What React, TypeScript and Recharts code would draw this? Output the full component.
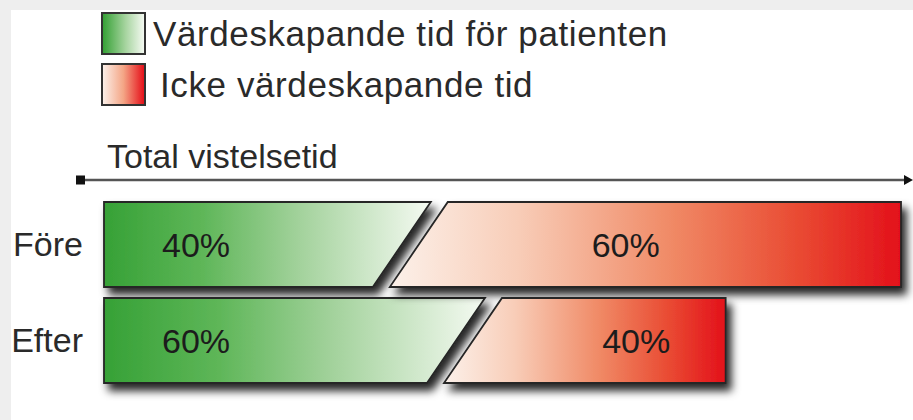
import React from 'react';
import { BarChart, Bar, XAxis, YAxis, Legend, LabelList } from 'recharts';

// rader och data
const categories = ['Före', 'Efter'];
const totalTime = [100, 78]; // total vistelsetid, relativt Före
const valueShare = [40, 60]; // % värdeskapande tid
const nonValueShare = [60, 40]; // % icke värdeskapande tid

const seriesNames = ['Värdeskapande tid för patienten', 'Icke värdeskapande tid'];
const axisTitle = 'Total vistelsetid';

const data = categories.map((name, i) => ({
  name,
  value: (totalTime[i] * valueShare[i]) / 100,
  nonValue: (totalTime[i] * nonValueShare[i]) / 100,
  valuePct: `${valueShare[i]}%`,
  nonValuePct: `${nonValueShare[i]}%`,
}));

const FONT = '"Liberation Sans", Arial, Helvetica, sans-serif';
const swatchCss = [
  'linear-gradient(to right, #36a136, #a6d49f 55%, #f4f9f1)',
  'linear-gradient(to right, #fbefe8, #f4a585 50%, #e5101a)',
];

// snedställda kanter mellan segmenten
const SLANT = 58;
const GREEN_TOP = 8;
const RED_TOP = 25;

const GreenShape = (props: any) => {
  const { x, y, width, height } = props;
  const b = x + width;
  const pts = [
    [x, y],
    [b + GREEN_TOP, y],
    [b + GREEN_TOP - SLANT, y + height],
    [x, y + height],
  ];
  return (
    <polygon
      points={pts.map((p) => p.join(',')).join(' ')}
      fill="url(#gradGreen)"
      stroke="#262626"
      strokeWidth={1.8}
      filter="url(#barShadow)"
    />
  );
};

const RedShape = (props: any) => {
  const { x, y, width, height } = props;
  const pts = [
    [x + RED_TOP, y],
    [x + width, y],
    [x + width, y + height],
    [x + RED_TOP - SLANT, y + height],
  ];
  return (
    <polygon
      points={pts.map((p) => p.join(',')).join(' ')}
      fill="url(#gradRed)"
      stroke="#262626"
      strokeWidth={1.8}
      filter="url(#barShadow)"
    />
  );
};

const GreenLabel = (props: any) => {
  const { x, y, height, value } = props;
  return (
    <text x={x + 92} y={y + height / 2} textAnchor="middle" dominantBaseline="central"
      fontFamily={FONT} fontSize={34} fill="#1c1c1c">
      {value}
    </text>
  );
};

const RedLabel = (props: any) => {
  const { x, y, width, height, value } = props;
  return (
    <text x={x + 112 + width * 0.19} y={y + height / 2} textAnchor="middle" dominantBaseline="central"
      fontFamily={FONT} fontSize={34} fill="#1c1c1c">
      {value}
    </text>
  );
};

const CategoryTick = (props: any) => {
  const { x, y, payload } = props;
  return (
    <text x={x} y={y} textAnchor="end" dominantBaseline="central"
      fontFamily={FONT} fontSize={34} fill="#2a2a2a">
      {payload.value}
    </text>
  );
};

const LegendContent = (props: any) => {
  const items = [...(props.payload || [])].sort(
    (a: any, b: any) => seriesNames.indexOf(a.value) - seriesNames.indexOf(b.value)
  );
  return (
    <div style={{ fontFamily: FONT }}>
      {items.map((item: any) => {
        const i = seriesNames.indexOf(item.value);
        return (
          <div key={item.value} style={{ display: 'flex', alignItems: 'center', height: 51 }}>
            <div
              style={{
                width: 45,
                height: 43,
                background: swatchCss[i],
                border: '2px solid #333',
                boxSizing: 'border-box',
              }}
            />
            <span
              style={{
                marginLeft: i === 0 ? 7 : 14,
                fontSize: 35,
                letterSpacing: 0.6,
                color: '#2a2a2a',
                lineHeight: '40px',
              }}
            >
              {item.value}
            </span>
          </div>
        );
      })}
    </div>
  );
};

export default function App() {
  return (
    <div style={{ position: 'absolute', left: 0, top: 0, width: 913, height: 420, background: '#eeeeee' }}>
      <div style={{ position: 'absolute', left: 11, top: 10, right: 0, bottom: 0, background: '#ffffff' }} />

      {/* axeltitel med pil */}
      <div style={{ position: 'absolute', left: 107, top: 136, fontFamily: FONT, fontSize: 34, color: '#2a2a2a', lineHeight: '40px' }}>
        {axisTitle}
      </div>
      <svg style={{ position: 'absolute', left: 0, top: 0 }} width={913} height={200}>
        <line x1={80} y1={180} x2={906} y2={180} stroke="#555" strokeWidth={2.5} />
        <rect x={76} y={175.5} width={9} height={9} fill="#111" />
        <polygon points="904,175 913,180 904,185" fill="#111" />
      </svg>

      <div style={{ position: 'absolute', left: 0, top: 0 }}>
        <BarChart
          width={913}
          height={420}
          data={data}
          layout="vertical"
          margin={{ top: 196, right: 12, bottom: 32, left: 0 }}
          barSize={85}
        >
          <defs>
            <linearGradient id="gradGreen" x1="0" y1="0" x2="1" y2="0">
              <stop offset="0%" stopColor="#36a136" />
              <stop offset="30%" stopColor="#5eb658" />
              <stop offset="60%" stopColor="#a3d29c" />
              <stop offset="100%" stopColor="#f5faf2" />
            </linearGradient>
            <linearGradient id="gradRed" x1="0" y1="0" x2="1" y2="0">
              <stop offset="0%" stopColor="#fcf1ea" />
              <stop offset="25%" stopColor="#f8cdb8" />
              <stop offset="55%" stopColor="#f08a66" />
              <stop offset="80%" stopColor="#e94a32" />
              <stop offset="100%" stopColor="#e3101b" />
            </linearGradient>
            <filter id="barShadow" x="-10%" y="-20%" width="130%" height="160%">
              <feDropShadow dx={5} dy={7} stdDeviation={4} floodColor="#000" floodOpacity={0.85} />
            </filter>
          </defs>
          <XAxis type="number" domain={[0, 100]} hide />
          <YAxis
            type="category"
            dataKey="name"
            width={104}
            axisLine={false}
            tickLine={false}
            tickMargin={15}
            tick={<CategoryTick />}
          />
          <Legend
            layout="horizontal"
            verticalAlign="middle"
            align="center"
            wrapperStyle={{ top: 8, left: 101, width: 700, height: 110 }}
            content={<LegendContent />}
          />
          <Bar dataKey="value" name={seriesNames[0]} stackId="t" fill="#5eb658" shape={<GreenShape />} isAnimationActive={false}>
            <LabelList dataKey="valuePct" content={<GreenLabel />} />
          </Bar>
          <Bar dataKey="nonValue" name={seriesNames[1]} stackId="t" fill="#f08a66" shape={<RedShape />} isAnimationActive={false}>
            <LabelList dataKey="nonValuePct" content={<RedLabel />} />
          </Bar>
        </BarChart>
      </div>
    </div>
  );
}
